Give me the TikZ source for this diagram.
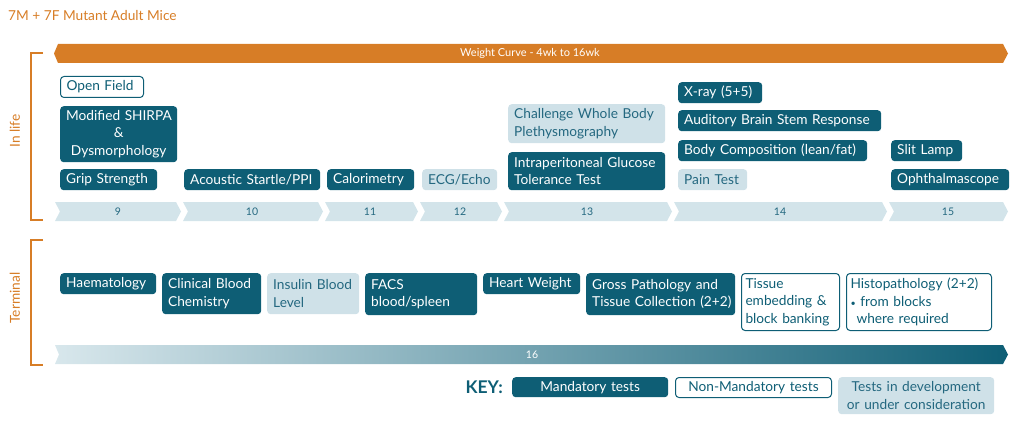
\documentclass[tikz,border=0pt]{standalone}
\usepackage{fontspec}
\setmainfont{Lato}
\newcommand{\oneline}[1]{\mbox{#1}}
\definecolor{dk}{RGB}{14,94,117}
\definecolor{lt}{RGB}{207,225,232}
\definecolor{lttxt}{RGB}{36,104,128}
\definecolor{org}{RGB}{215,125,38}
\definecolor{chev}{RGB}{211,228,234}
\definecolor{grl}{RGB}{216,231,236}
\tikzset{
  tb/.style={anchor=north west, rounded corners=3.5pt, inner xsep=6pt, inner ysep=1pt,
    font=\fontsize{13.7}{17.5}\selectfont, align=left},
  dkbox/.style={tb, fill=dk, text=white},
  ltbox/.style={tb, fill=lt, text=lttxt},
  wtbox/.style={tb, draw=dk, line width=1pt, fill=white, text=dk},
  wk/.style={text=lttxt, font=\fontsize{10.5}{12}\selectfont},
  side/.style={rotate=90, text=org, font=\fontsize{13.7}{15}\selectfont},
  brk/.style={draw=org, line width=2.5pt},
}
\begin{document}
\begin{tikzpicture}[x=1pt,y=-1pt]
\useasboundingbox (0,0) rectangle (1020,425);
% title
\node[anchor=base west, text=org, font=\fontsize{13.7}{15}\selectfont, inner sep=0pt] (title) at (8,21) {7M + 7F Mutant Adult Mice};
% banner
\fill[org] (58,44) -- (1003,44) -- (1008,53.5) -- (1003,63) -- (58,63) -- (54,53.5) -- cycle;
\node[text=white, font=\fontsize{11}{12}\selectfont] (weight) at (530,53.5) {Weight Curve - 4wk to 16wk};
% brackets
\draw[brk] (43,53) -- (31,53) -- (31,220) -- (43,220);
\node[side] (inlife) at (15,131) {In life};
\draw[brk] (43,240) -- (31,240) -- (31,365) -- (43,365);
\node[side] (terminal) at (15,298) {Terminal};
% week chevrons
\foreach \a/\b in {55/176, 183/318, 325/413, 420/497, 504/667, 674/882, 889/1003}
  \fill[chev] (\a,202) -- (\b,202) -- (\b+5,211.5) -- (\b,221) -- (\a,221) -- (\a+5,211.5) -- cycle;
\node[wk] (w9) at (118,211.5) {9};
\node[wk] (w10) at (252,211.5) {10};
\node[wk] (w11) at (370,211.5) {11};
\node[wk] (w12) at (460,211.5) {12};
\node[wk] (w13) at (587,211.5) {13};
\node[wk] (w14) at (780,211.5) {14};
\node[wk] (w15) at (948,211.5) {15};
% in-life tests
\node[wtbox, minimum height=21pt, text width=71pt] (openf) at (60,76) {\oneline{Open Field}};
\node[dkbox, minimum height=56pt, text width=105pt, align=center] (shirpa) at (60,106) {\oneline{Modified SHIRPA}\\\&\\\oneline{Dysmorphology}};
\node[dkbox, minimum height=21pt, text width=85pt] (grip) at (60,169) {\oneline{Grip Strength}};
\node[dkbox, minimum height=21pt, text width=124pt] (acoustic) at (184,169) {\oneline{Acoustic Startle/PPI}};
\node[dkbox, minimum height=21pt, text width=75pt] (calor) at (327,169) {\oneline{Calorimetry}};
\node[ltbox, minimum height=21pt, text width=63pt] (ecg) at (422,169) {\oneline{ECG/Echo}};
\node[ltbox, minimum height=39pt, text width=145pt] (challenge) at (508,104) {\oneline{Challenge Whole Body}\\\oneline{Plethysmography}};
\node[dkbox, minimum height=38pt, text width=145pt] (ipgtt) at (508,152) {\oneline{Intraperitoneal Glucose}\\\oneline{Tolerance Test}};
\node[dkbox, minimum height=21pt, text width=72pt] (xray) at (678,82) {\oneline{X-ray (5+5)}};
\node[dkbox, minimum height=21pt, text width=191pt] (abr) at (678,110) {\oneline{Auditory Brain Stem Response}};
\node[dkbox, minimum height=21pt, text width=177pt] (bodyc) at (678,140) {\oneline{Body Composition (lean/fat)}};
\node[ltbox, minimum height=21pt, text width=57pt] (pain) at (678,169) {\oneline{Pain Test}};
\node[dkbox, minimum height=21pt, text width=59pt] (slit) at (891,140) {\oneline{Slit Lamp}};
\node[dkbox, minimum height=21pt, text width=106pt] (oph) at (891,169) {\oneline{Ophthalmascope}};
% terminal tests
\node[dkbox, minimum height=21pt, text width=84pt] (haem) at (60,273) {\oneline{Haematology}};
\node[dkbox, minimum height=41pt, text width=87pt] (cbc) at (162,273) {\oneline{Clinical Blood}\\\oneline{Chemistry}};
\node[ltbox, minimum height=41pt, text width=80pt] (insulin) at (267,273) {\oneline{Insulin Blood}\\\oneline{Level}};
\node[dkbox, minimum height=42pt, text width=100pt] (facs) at (365,273) {\oneline{FACS}\\\oneline{blood/spleen}};
\node[dkbox, minimum height=21pt, text width=85pt] (heart) at (483,273) {\oneline{Heart Weight}};
\node[dkbox, minimum height=42pt, text width=137pt] (gross) at (586,273) {\oneline{Gross Pathology and}\\\oneline{Tissue Collection (2+2)}};
\node[wtbox, minimum height=57pt, text width=90pt, inner xsep=4pt] (tissue) at (741,273) {\oneline{Tissue}\\\oneline{embedding \&}\\\oneline{block banking}};
\node[wtbox, minimum height=57pt, text width=137pt, inner xsep=4pt] (histo) at (846,273) {\oneline{Histopathology (2+2)}\\\oneline{{\fontsize{9}{9}\selectfont\textbullet} from blocks}\\\oneline{\hspace*{6pt}where required}};
% gradient bar
\shade[left color=grl, right color=dk] (55,345) -- (1003,345) -- (1008,354.5) -- (1003,364) -- (55,364) -- (59,354.5) -- cycle;
\node[text=white, font=\fontsize{10.5}{12}\selectfont] (w16) at (532,355) {16};
% key
\node[anchor=east, text=dk, font=\fontsize{17.5}{20}\bfseries\selectfont, inner sep=0pt] (key) at (503,387) {KEY:};
\node[dkbox, minimum height=20pt, text width=144pt, align=center] (keym) at (512,377) {\oneline{Mandatory tests}};
\node[wtbox, minimum height=20pt, text width=144pt, align=center] (keyn) at (675,377) {\oneline{Non-Mandatory tests}};
\node[ltbox, minimum height=37pt, text width=144pt, align=center] (keyd) at (838,377) {\oneline{Tests in development}\\\oneline{or under consideration}};
\end{tikzpicture}
\end{document}
